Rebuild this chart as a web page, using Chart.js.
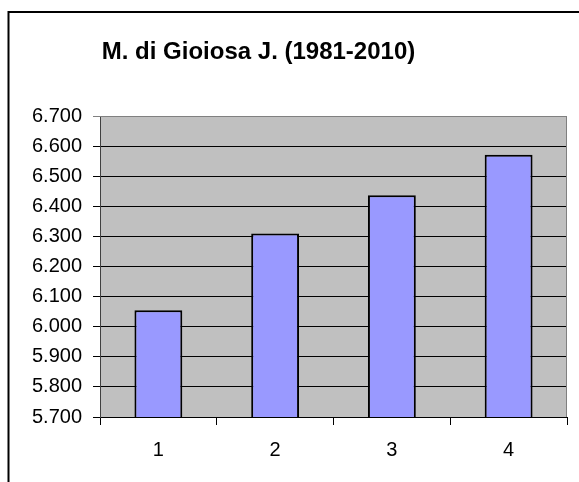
<!DOCTYPE html>
<html>
<head>
<meta charset="utf-8">
<script src="https://cdn.jsdelivr.net/npm/chart.js@4"></script>
<style>
  html, body { margin: 0; padding: 0; background: #fff; }
  canvas { display: block; }
</style>
</head>
<body>
<canvas id="grafico" width="579" height="482"></canvas>
<script>
const titolo = 'M. di Gioiosa J. (1981-2010)';
const categorie = ['1', '2', '3', '4'];
const valori = [6055, 6310, 6437, 6571];
const yMin = 5700;
const yMax = 6700;
const yPasso = 100;

// 6700 -> "6.700"
function formatta(v) {
  const s = String(Math.round(v));
  return s.length > 3 ? s.slice(0, -3) + '.' + s.slice(-3) : s;
}

const sfondoPlugin = {
  id: 'sfondo',
  beforeDraw(chart) {
    const { ctx, chartArea: a } = chart;
    ctx.save();
    // cornice esterna
    ctx.strokeStyle = '#000';
    ctx.lineWidth = 2;
    ctx.strokeRect(8.5, 12, 700, 600);
    // area del grafico
    ctx.fillStyle = '#c0c0c0';
    ctx.fillRect(a.left, a.top, a.right - a.left, a.bottom - a.top);
    // titolo
    ctx.fillStyle = '#000';
    ctx.font = 'bold 24px "Liberation Sans", Arial, sans-serif';
    ctx.textAlign = 'center';
    ctx.textBaseline = 'alphabetic';
    ctx.fillText(titolo, 258.5, 59);
    ctx.restore();
  },
  afterDatasetsDraw(chart) {
    const { ctx, chartArea: a } = chart;
    ctx.save();
    ctx.strokeStyle = '#808080';
    ctx.lineWidth = 1;
    ctx.beginPath();
    ctx.moveTo(a.left, a.top + 0.5);
    ctx.lineTo(a.right - 0.5, a.top + 0.5);
    ctx.lineTo(a.right - 0.5, a.bottom);
    ctx.stroke();
    ctx.restore();
  }
};

const ctx = document.getElementById('grafico').getContext('2d');
const chart = new Chart(ctx, {
  type: 'bar',
  data: {
    labels: categorie,
    datasets: [{
      data: valori,
      backgroundColor: '#9999ff',
      borderColor: '#000',
      borderWidth: 2,
      borderSkipped: false,
      categoryPercentage: 1,
      barPercentage: 0.41
    }]
  },
  options: {
    responsive: false,
    animation: false,
    layout: { padding: { left: 0, top: 116, right: 12, bottom: 0 } },
    plugins: {
      legend: { display: false },
      title: { display: false },
      tooltip: { enabled: false }
    },
    scales: {
      x: {
        offset: true,
        grid: {
          offset: true,
          drawOnChartArea: false,
          drawTicks: true,
          tickLength: 8,
          color: '#000',
          lineWidth: 1
        },
        border: { display: true, color: '#000', width: 1 },
        ticks: {
          color: '#000',
          padding: 13,
          font: { family: '"Liberation Sans", Arial, sans-serif', size: 20 }
        },
        afterFit(scale) { scale.height = 65; }
      },
      y: {
        min: yMin,
        max: yMax,
        grid: {
          color: (c) => (c.tick && c.tick.value === yMax ? '#808080' : '#000'),
          lineWidth: 1,
          tickLength: 7,
          drawTicks: true
        },
        border: { display: true, color: '#404040', width: 1 },
        ticks: {
          stepSize: yPasso,
          color: '#000',
          padding: 11,
          font: { family: '"Liberation Sans", Arial, sans-serif', size: 20 },
          callback: (v) => formatta(v)
        },
        afterFit(scale) { scale.width = 100; }
      }
    }
  },
  plugins: [sfondoPlugin]
});
</script>
</body>
</html>
